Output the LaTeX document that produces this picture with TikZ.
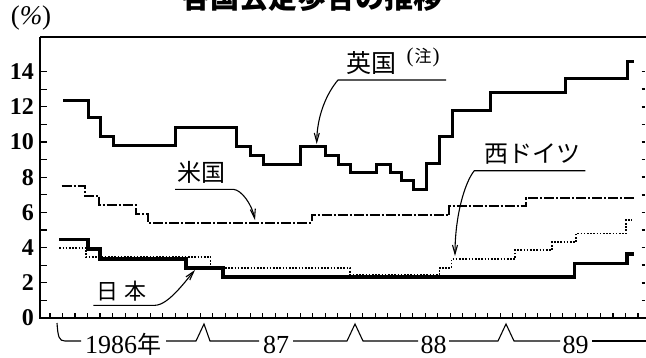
\documentclass[tikz,border=0pt]{standalone}
\usepackage{fontspec}
\setmainfont{Liberation Serif}
\newfontfamily\jp{Noto Sans CJK JP}
\usetikzlibrary{arrows.meta}
\begin{document}
\begin{tikzpicture}[x=1pt,y=-1pt,
  axisline/.style={line width=2.2pt},
  frameline/.style={line width=1.6pt},
  tickline/.style={line width=1.1pt},
  ukline/.style={line width=3pt},
  jpline/.style={line width=3.6pt},
  usline/.style={line width=2pt, dash pattern=on 10pt off 2pt on 2pt off 2pt},
  deline/.style={line width=1.8pt, dash pattern=on 1.6pt off 1.6pt},
  leader/.style={line width=1.1pt},
  arr/.style={-{Straight Barb[length=9pt,width=5pt]}},
  bracketline/.style={line width=1.1pt},
  ylab/.style={font=\fontsize{24}{24}\selectfont\bfseries, anchor=east, inner sep=0pt},
  xlab/.style={font=\fontsize{26}{26}\selectfont, inner sep=0pt},
  cjklab/.style={font=\jp\fontsize{24}{24}\selectfont, inner sep=0pt},
]
\useasboundingbox (0,0) rectangle (646,357);
\begin{scope}
  \clip (0,0) rectangle (646,357);
  \node[font=\jp\bfseries\fontsize{29}{29}\selectfont, anchor=base, inner sep=0pt] (title) at (312,8) {各国公定歩合の推移};
\end{scope}

% unit
\node[font=\fontsize{27}{27}\selectfont, inner sep=0pt] (unit) at (31,18) {(\textit{\%})};

% frame and axes
\draw[frameline] (40,37) -- (646,37);
\draw[axisline] (40,37) -- (40,318);
\draw[axisline] (39,318) -- (646,318);

% y ticks and labels
\foreach \v in {1,...,14} {
  \draw[tickline] (40,{318-17.6*\v}) -- ++(7,0);
  \draw[line width=1.6pt] (641.5,{318-17.6*\v}) -- ++(3,0);
}
\foreach \v in {0,2,...,14} {
  \node[ylab] (yl\v) at (34,{318-17.6*\v}) {\v};
}
% x ticks
\foreach \k in {0,...,47} {
  \draw[tickline] ({50+12.51*\k},318) -- ++(0,-5);
}

% year brackets
\node[xlab, anchor=base west] (y86) at (85,353) {1986{\jp\fontsize{24}{24}\selectfont 年}};
\node[xlab, anchor=base] (y87) at (276,353) {87};
\node[xlab, anchor=base] (y88) at (433.5,353) {88};
\node[xlab, anchor=base] (y89) at (575.5,353) {89};
\coordinate (b0) at (57,323);
\draw[bracketline] (b0) .. controls (58,337) and (59,341) .. (65,341) -- (81,341);
\draw[bracketline] (166,341) -- (196,341) -- (204,324) -- (210,341) -- (259,341);
\draw[bracketline] (293,341) -- (347,341) -- (355,324) -- (363,341) -- (418,341);
\draw[bracketline] (449,341) -- (498,341) -- (506,324) -- (514,341) -- (560,341);
\draw[bracketline] (592,341) -- (646,341);

% US (dash-dot)
\draw[usline] (61.7,186.3) -- (85,186.3) -- (85,196) -- (99.3,196) -- (99.3,205.3) -- (136,205.3) -- (136,213.7) -- (147.7,213.7) -- (147.7,222.8) -- (311.7,222.8) -- (311.7,215.3) -- (449.3,215.3) -- (449.3,206.3) -- (526,206.3) -- (526,197.7) -- (634,197.7);

% West Germany (dotted)
\draw[deline] (59.3,248) -- (86,248) -- (86,257) -- (210.5,257) -- (210.5,268) -- (350,268) -- (350,274.5) -- (439.5,274.5) -- (439.5,267.7) -- (451.5,267.7) -- (451.5,259) -- (515,259) -- (515,250) -- (552,250) -- (552,242) -- (576,242) -- (576,233.5) -- (626,233.5) -- (626,220) -- (631.5,220);

% Japan (thick)
\draw[jpline] (59.3,239.3) -- (87.7,239.3) -- (87.7,248.7) -- (100,248.7) -- (100,258.7) -- (186,258.7) -- (186,268) -- (222.7,268) -- (222.7,277) -- (574.5,277) -- (574.5,263.3) -- (627,263.3) -- (627,254.2) -- (634,254.2);

% UK (thick)
\draw[ukline] (63,100) -- (88,100) -- (88,117.7) -- (100.7,117.7) -- (100.7,136) -- (113,136) -- (113,145.7) -- (175,145.7) -- (175,127.7) -- (236.7,127.7) -- (236.7,146) -- (250,146) -- (250,155) -- (263,155) -- (263,164) -- (300,164) -- (300,146) -- (325,146) -- (325,155) -- (338,155) -- (338,164) -- (350,164) -- (350,172.7) -- (376.7,172.7) -- (376.7,164) -- (390,164) -- (390,172.7) -- (401.7,172.7) -- (401.7,180.7) -- (413.3,180.7) -- (413.3,189.3) -- (426.5,189.3) -- (426.5,163.5) -- (439.5,163.5) -- (439.5,136.7) -- (452.5,136.7) -- (452.5,110) -- (490,110) -- (490,92.7) -- (565.3,92.7) -- (565.3,78.3) -- (627.7,78.3) -- (627.7,61.7) -- (634,61.7);

% labels and leaders
\node[font=\jp\fontsize{25}{25}\selectfont, inner sep=0pt] (uk) at (371,63) {英国};
\node[font=\fontsize{21}{21}\selectfont, inner sep=0pt] (uknote) at (423,57) {(\hspace{1pt}{\jp\fontsize{17}{17}\selectfont 注}\hspace{1pt})};
\coordinate (ukR) at (446,80);
\coordinate (ukL) at (338,80);
\coordinate (ukT) at (316.7,144);
\draw[leader, arr] (ukR) -- (ukL) .. controls (327,93) and (317,115) .. (ukT);

\node[cjklab] (us) at (201.7,172.5) {米国};
\coordinate (usL) at (175,189.3);
\coordinate (usR) at (233.3,189.3);
\coordinate (usT) at (255,220);
\draw[leader, arr] (usL) -- (usR) .. controls (242,190) and (252,205) .. (usT);

\node[cjklab] (de) at (532,154) {西ドイツ};
\coordinate (deR) at (585.3,170.7);
\coordinate (deL) at (474.3,170.7);
\coordinate (deT) at (455,256);
\draw[leader, arr] (deR) -- (deL) .. controls (465,182) and (455,215) .. (deT);

\node[font=\jp\fontsize{22}{22}\selectfont, inner sep=0pt] (jpn) at (121.7,291) {日\hspace{6pt}本};
\coordinate (jpL) at (93.3,305.3);
\coordinate (jpR) at (155,305.3);
\coordinate (jpT) at (195,270);
\draw[leader, arr] (jpL) -- (jpR) .. controls (168,305) and (184,283) .. (jpT);
\end{tikzpicture}
\end{document}
